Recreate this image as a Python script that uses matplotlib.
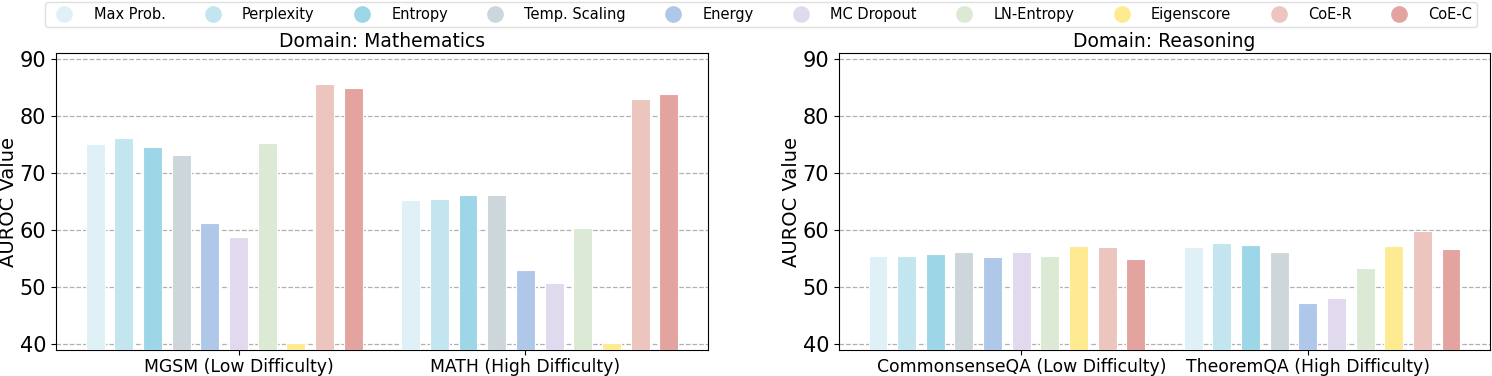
import numpy as np
import matplotlib
matplotlib.use("Agg")
import matplotlib.pyplot as plt
from matplotlib.lines import Line2D

methods = ["Max Prob.", "Perplexity", "Entropy", "Temp. Scaling", "Energy",
           "MC Dropout", "LN-Entropy", "Eigenscore", "CoE-R", "CoE-C"]
colors = ["#dff0f7", "#c3e5f0", "#9dd6e7", "#cdd6da", "#afc7e9",
          "#e1d9ed", "#dce9d4", "#feea90", "#edc5bf", "#e3a49f"]

math_groups = ["MGSM (Low Difficulty)", "MATH (High Difficulty)"]
mgsm = [75.0, 76.2, 74.6, 73.2, 61.2, 58.8, 75.3, 40.2, 85.5, 84.8]
math_ = [65.2, 65.4, 66.1, 66.2, 53.1, 50.7, 60.3, 40.2, 83.0, 83.8]

reason_groups = ["CommonsenseQA (Low Difficulty)", "TheoremQA (High Difficulty)"]
csqa = [55.5, 55.4, 55.9, 56.1, 55.3, 56.1, 55.4, 57.2, 57.1, 54.9]
theoremqa = [57.1, 57.8, 57.4, 56.1, 47.3, 48.1, 53.4, 57.2, 59.9, 56.7]

fig = plt.figure(figsize=(14.92, 3.76), dpi=100)
ax1 = fig.add_axes([0.0375, 0.069, 0.437, 0.79])
ax2 = fig.add_axes([0.5623, 0.069, 0.4364, 0.79])


def draw(ax, groups, data, title):
    n = len(methods)
    for g, vals in enumerate(data):
        x = np.arange(n) + g * (n + 1)
        for j in range(n):
            ax.bar(x[j], vals[j], width=0.66, color=colors[j],
                   edgecolor="white", linewidth=0.8, zorder=3)
    ax.set_xticks([5, 15])
    ax.set_xticklabels(groups, fontsize=12.4)
    ax.tick_params(axis="x", pad=2)
    ax.set_ylim(39, 91)
    ax.set_yticks([40, 50, 60, 70, 80, 90])
    ax.tick_params(axis="y", labelsize=15)
    ax.set_ylabel("AUROC Value", fontsize=14)
    ax.yaxis.set_label_coords(-0.058, 0.5)
    ax.set_title(title, fontsize=13.5, pad=4)
    ax.grid(axis="y", linestyle="--", color="#b0b0b0", linewidth=0.9, zorder=0)


draw(ax1, math_groups, [mgsm, math_], "Domain: Mathematics")
draw(ax2, reason_groups, [csqa, theoremqa], "Domain: Reasoning")

handles = [Line2D([0], [0], marker="o", linestyle="", markersize=11,
                  markerfacecolor=c, markeredgecolor=c) for c in colors]
fig.legend(handles, methods, loc="upper center", bbox_to_anchor=(0.51, 1.014),
           ncol=10, fontsize=10.5, frameon=True, columnspacing=2.25,
           handletextpad=1.0, borderpad=0.35, edgecolor="#d8d8d8")

fig.savefig("out.png", dpi=100)
